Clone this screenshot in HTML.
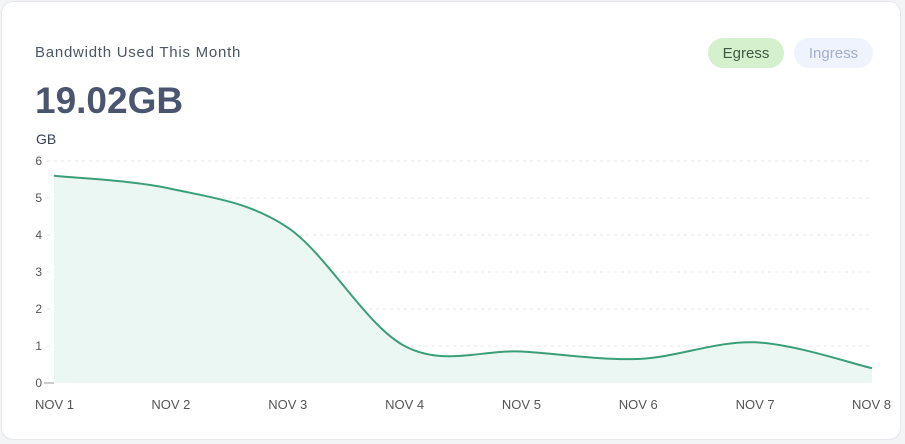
<!DOCTYPE html>
<html><head><style>
html,body{margin:0;padding:0;background:#f3f4f6;}
body{width:905px;height:444px;position:relative;overflow:hidden;font-family:"Liberation Sans",sans-serif;}
.card{position:absolute;left:1px;top:1px;width:900px;height:439px;background:#fff;border:1px solid #e5e7eb;border-radius:12px;box-sizing:border-box;}
.t{position:absolute;left:35px;top:44px;font-size:15px;letter-spacing:0.75px;color:#4b5563;}
.big{position:absolute;left:35px;top:80px;font-size:37px;font-weight:bold;color:#4a5670;}
.gb{position:absolute;left:36px;top:131px;font-size:14px;color:#374151;}
.pill{position:absolute;top:38px;height:30px;line-height:30px;border-radius:15px;font-size:15px;text-align:center;}
</style></head><body>
<div class="card"></div>
<div class="t">Bandwidth Used This Month</div>
<div class="big">19.02GB</div>
<div class="gb">GB</div>
<div class="pill" style="left:708px;width:76px;background:#d4f0cd;color:#3f5a45;line-height:31px;">Egress</div>
<div class="pill" style="left:794px;width:79px;background:#eef3fd;color:#a3aed0;line-height:31px;">Ingress</div>
<svg id="s" width="905" height="444" style="position:absolute;left:0;top:0" font-family="Liberation Sans, sans-serif"></svg>
<script>
var s=document.getElementById('s'),h='';
var x0=54,dx=(872-54)/7,y0=383,k=37;
for(var i=0;i<=6;i++){var y=y0-i*k;
 if(i>0)h+='<line x1="47" x2="872" y1="'+y+'" y2="'+y+'" stroke="#e5e7eb" stroke-dasharray="3,4"/>';
 h+='<text x="42" y="'+(y+4)+'" font-size="12" fill="#555" text-anchor="end">'+i+'</text>';}
h+='<line x1="44" x2="54" y1="383" y2="383" stroke="#999"/>';
var v=[5.6,5.25,4.2,1.0,0.85,0.65,1.1,0.4],p=v.map(function(a,i){return[x0+i*dx,y0-a*k]});
var d='M'+p[0][0]+','+p[0][1];
for(var i=0;i<7;i++){var a=p[Math.max(i-1,0)],b=p[i],c=p[i+1],e=p[Math.min(i+2,7)];
 d+=' C'+(b[0]+(c[0]-a[0])/6)+','+(b[1]+(c[1]-a[1])/6)+' '+(c[0]-(e[0]-b[0])/6)+','+(c[1]-(e[1]-b[1])/6)+' '+c[0]+','+c[1];}
h+='<path d="'+d+' L872,383 L54,383Z" fill="#ebf7f2"/>';
h+='<path d="'+d+'" fill="none" stroke="#3a9f78" stroke-width="2"/>';
for(var i=0;i<8;i++){var x=x0+i*dx,an=i==0?'start':i==7?'end':'middle';if(i==0)x=35;if(i==7)x=891;
 h+='<text x="'+x+'" y="409" font-size="13" fill="#555" text-anchor="'+an+'">NOV '+(i+1)+'</text>';}
s.innerHTML=h;
</script>
</body></html>
